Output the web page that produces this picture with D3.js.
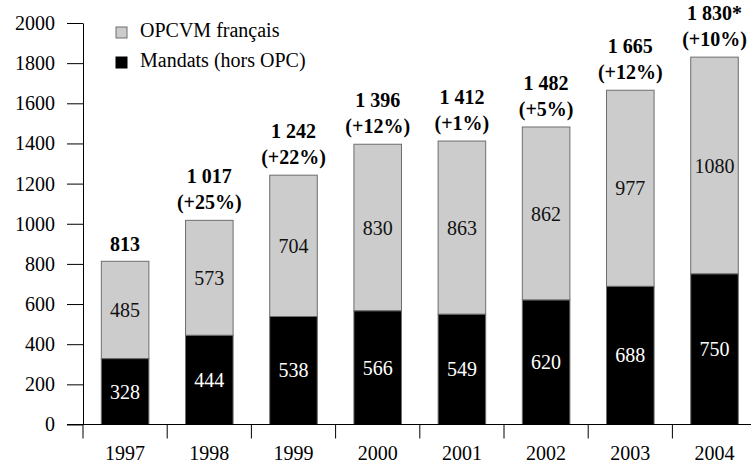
<!DOCTYPE html>
<html>
<head>
<meta charset="utf-8">
<script src="https://cdn.jsdelivr.net/npm/d3@7"></script>
<style>
  body { margin: 0; background: #fff; }
  svg { display: block; }
  svg text { font-family: "Liberation Serif", "DejaVu Serif", serif; }
</style>
</head>
<body>
<svg id="chart" width="751" height="467"></svg>
<script>
// data
const years = ['1997', '1998', '1999', '2000', '2001', '2002', '2003', '2004'];
const mandats = [328, 444, 538, 566, 549, 620, 688, 750];
const opcvm = [485, 573, 704, 830, 863, 862, 977, 1080];
const totalLabels = ['813', '1 017', '1 242', '1 396', '1 412', '1 482', '1 665', '1 830*'];
const growthLabels = ['', '(+25%)', '(+22%)', '(+12%)', '(+1%)', '(+5%)', '(+12%)', '(+10%)'];
const yTicks = [0, 200, 400, 600, 800, 1000, 1200, 1400, 1600, 1800, 2000];

const svg = d3.select('#chart');

// axis origin and extents
const plotLeft = 83, plotBottom = 424.5, plotTop = 23;
const step = 84.2;

const x = d3.scaleBand()
    .domain(years)
    .range([plotLeft, plotLeft + step * years.length])
    .paddingInner(0.435)
    .paddingOuter(0.435 / 2);

const y = d3.scaleLinear()
    .domain([0, 2000])
    .range([plotBottom, plotTop]);

const rows = years.map((yr, i) => ({
    year: yr, m: mandats[i], o: opcvm[i],
    total: totalLabels[i], growth: growthLabels[i]
}));

// bars : mandats (black) at the bottom, OPCVM (grey) on top
svg.selectAll('rect.opcvm')
    .data(rows)
    .enter()
    .append('rect')
    .attr('class', 'opcvm')
    .attr('x', d => x(d.year))
    .attr('y', d => y(d.m + d.o))
    .attr('width', x.bandwidth())
    .attr('height', d => y(d.m) - y(d.m + d.o))
    .attr('fill', '#cccccc')
    .attr('stroke', '#6e6e6e')
    .attr('stroke-width', 1);

svg.selectAll('rect.mandats')
    .data(rows)
    .enter()
    .append('rect')
    .attr('class', 'mandats')
    .attr('x', d => x(d.year))
    .attr('y', d => y(d.m))
    .attr('width', x.bandwidth())
    .attr('height', d => plotBottom - y(d.m))
    .attr('fill', '#000')
    .attr('stroke', '#6e6e6e')
    .attr('stroke-width', 1);

// values inside the segments
svg.selectAll('text.vm')
    .data(rows)
    .enter()
    .append('text')
    .attr('x', d => x(d.year) + x.bandwidth() / 2)
    .attr('y', d => (y(0) + y(d.m)) / 2)
    .attr('dy', '0.35em')
    .attr('text-anchor', 'middle')
    .attr('font-size', 20)
    .attr('fill', '#fff')
    .text(d => d.m);

svg.selectAll('text.vo')
    .data(rows)
    .enter()
    .append('text')
    .attr('x', d => x(d.year) + x.bandwidth() / 2)
    .attr('y', d => (y(d.m) + y(d.m + d.o)) / 2)
    .attr('dy', '0.35em')
    .attr('text-anchor', 'middle')
    .attr('font-size', 20)
    .attr('fill', '#111')
    .text(d => d.o);

// totals and growth above the bars
const tops = svg.selectAll('g.top')
    .data(rows)
    .enter()
    .append('g')
    .attr('transform', d => `translate(${x(d.year) + x.bandwidth() / 2},${y(d.m + d.o)})`)
    .attr('font-size', 20)
    .attr('font-weight', 'bold')
    .attr('text-anchor', 'middle');

tops.append('text')
    .attr('y', d => d.growth ? -37 : -10)
    .text(d => d.total);

tops.append('text')
    .attr('y', -11)
    .text(d => d.growth);

// y axis
const yAxis = svg.append('g')
    .attr('transform', `translate(${plotLeft},0)`)
    .call(d3.axisLeft(y).tickValues(yTicks).tickFormat(d3.format('d'))
        .tickSize(16).tickSizeOuter(0).tickPadding(12));
yAxis.attr('font-size', 20);
yAxis.selectAll('text').attr('fill', '#000');
yAxis.selectAll('line, path').attr('stroke', '#000');

// x axis line and tick marks between the years
svg.append('line')
    .attr('x1', plotLeft - 16).attr('x2', 751)
    .attr('y1', plotBottom).attr('y2', plotBottom)
    .attr('stroke', '#000');

const gap = (x.step() - x.bandwidth()) / 2;
svg.selectAll('line.xt')
    .data(years)
    .enter()
    .append('line')
    .attr('x1', d => x(d) - gap).attr('x2', d => x(d) - gap)
    .attr('y1', plotBottom).attr('y2', plotBottom + 14)
    .attr('stroke', '#000');

svg.selectAll('text.year')
    .data(years)
    .enter()
    .append('text')
    .attr('x', d => x(d) + x.bandwidth() / 2)
    .attr('y', 460)
    .attr('text-anchor', 'middle')
    .attr('font-size', 20)
    .text(d => d);

// legend
const legend = [
    { label: 'OPCVM français', fill: '#cccccc', stroke: '#6e6e6e' },
    { label: 'Mandats (hors OPC)', fill: '#000', stroke: '#000' }
];
const lg = svg.selectAll('g.legend')
    .data(legend)
    .enter()
    .append('g')
    .attr('transform', (d, i) => `translate(116,${27 + i * 30})`);
lg.append('rect')
    .attr('width', 11).attr('height', 11)
    .attr('fill', d => d.fill)
    .attr('stroke', d => d.stroke);
lg.append('text')
    .attr('x', 24).attr('y', 10)
    .attr('font-size', 20)
    .text(d => d.label);
</script>
</body>
</html>
